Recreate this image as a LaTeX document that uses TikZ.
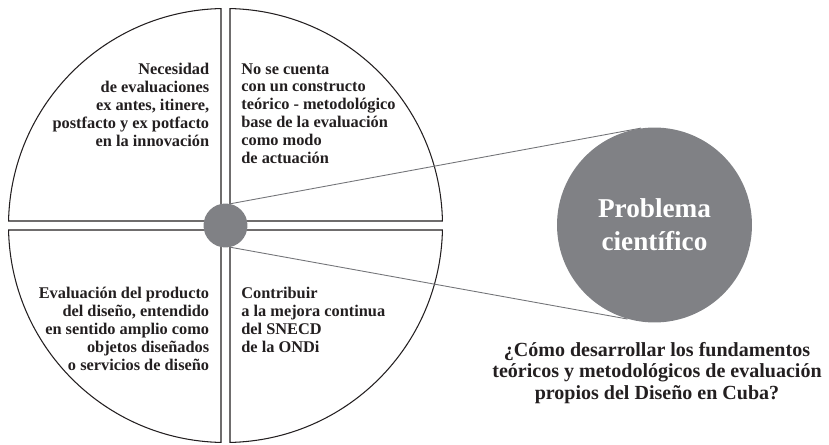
\documentclass[tikz,border=0pt]{standalone}
\usepackage{fontspec}
\setmainfont{Liberation Serif}
\definecolor{hubgrey}{RGB}{128,129,133}
\definecolor{inkblack}{RGB}{35,31,32}

\begin{document}
\begin{tikzpicture}[x = 0.02cm, y = 0.02cm,
    quad/.style = {draw = inkblack, line width = 0.6pt, fill = white},
    hub/.style = {shape = circle, fill = hubgrey, minimum size = 0.88cm, inner sep = 0pt},
    problem/.style = {shape = circle, fill = hubgrey, minimum size = 3.9cm, inner sep = 0pt,
        text = white, align = center, font = \fontsize{15.5}{18.7}\selectfont\bfseries},
    link/.style = {draw = hubgrey!90!black, line width = 0.5pt},
    quadtext/.style = {inner sep = 0pt, text = inkblack, font = \fontsize{9.3}{10.2}\selectfont\bfseries},
    question/.style = {inner sep = 0pt, text = inkblack, align = center,
        font = \fontsize{11.4}{12.3}\selectfont\bfseries}]
    \useasboundingbox (0,0) rectangle (829,444);
    \def\r{217} \def\h{4.5} \def\a{1.19}
    % four quadrants round the hub
    \begin{scope}[shift = {(225.5,218.5)}]
        \foreach \k/\sx/\sy in {0/1/1, 1/-1/1, 2/-1/-1, 3/1/-1}
            \draw[quad] (\sx*\h,\sy*\h) -- ({90*\k+\a}:\r)
                arc[start angle = {90*\k+\a}, end angle = {90*\k+90-\a}, radius = \r] -- cycle;
    \end{scope}
    \node[hub] (hub) at (225.5,218.5) {};
    \node[problem] (prob) at (654.5,219) {Problema\\científico};
    \draw[link] (hub.77) -- (prob.98);
    \draw[link] (hub.-77) -- (prob.-106);
    % texts
    \node[quadtext, anchor = north east, align = right] (nw) at (209.5,381)
        {Necesidad\\de evaluaciones\\ex antes, itinere,\\postfacto y ex potfacto\\en la innovación};
    \node[quadtext, anchor = north west, align = left] (ne) at (241,381)
        {No se cuenta\\con un constructo\\teórico - metodológico\\base de la evaluación\\como modo\\de actuación};
    \node[quadtext, anchor = north east, align = right] (sw) at (209.5,157)
        {Evaluación del producto\\del diseño, entendido\\en sentido amplio como\\objetos diseñados\\o servicios de diseño};
    \node[quadtext, anchor = north west, align = left] (se) at (241,157)
        {Contribuir\\a la mejora continua\\del SNECD\\de la ONDi};
    \node[question] (ask) at (657,71)
        {¿Cómo desarrollar los fundamentos\\teóricos y metodológicos de evaluación\\propios del Diseño en Cuba?};
\end{tikzpicture}
\end{document}
